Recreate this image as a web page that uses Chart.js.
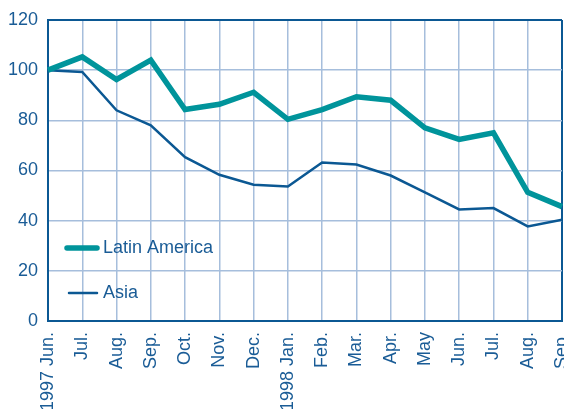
<!DOCTYPE html>
<html>
<head>
<meta charset="utf-8">
<script src="https://cdn.jsdelivr.net/npm/chart.js@4/dist/chart.umd.min.js"></script>
<style>
html,body{margin:0;padding:0;background:#fff;}
#wrap{width:564px;height:409px;position:relative;}
</style>
</head>
<body>
<div id="wrap"><canvas id="c" width="564" height="409"></canvas></div>
<script>
const categories = ["1997 Jun.","Jul.","Aug.","Sep.","Oct.","Nov.","Dec.","1998 Jan.","Feb.","Mar.","Apr.","May","Jun.","Jul.","Aug.","Sep."];
const latinAmerica = [100, 105.3, 96.3, 104, 84.3, 86.4, 91.2, 80.4, 84.3, 89.4, 88, 77, 72.4, 75, 51.3, 45.6];
const asia = [100, 99.3, 84, 78, 65.3, 58.3, 54.3, 53.6, 63.2, 62.4, 58, 51.3, 44.5, 45, 37.7, 40.4];
const yTicks = [0, 20, 40, 60, 80, 100, 120];

const TEAL = '#00949b';
const NAVY = '#0b5893';
const TEXT = '#1a5c96';
const GRID = '#a6bedc';
const FONT = '"Liberation Sans", Arial, Helvetica, sans-serif';

const legendPlugin = {
  id: 'insideLegend',
  afterDatasetsDraw(chart) {
    const ctx = chart.ctx;
    const items = [
      {ds: chart.data.datasets[0], y: 248, x1: 67, x2: 97},
      {ds: chart.data.datasets[1], y: 293, x1: 69, x2: 97}
    ];
    ctx.save();
    items.forEach(it => {
      ctx.strokeStyle = it.ds.borderColor;
      ctx.lineWidth = it.ds.borderWidth;
      ctx.lineCap = 'round';
      ctx.beginPath();
      ctx.moveTo(it.x1, it.y);
      ctx.lineTo(it.x2, it.y);
      ctx.stroke();
      ctx.fillStyle = TEXT;
      ctx.font = '18px ' + FONT;
      ctx.textBaseline = 'middle';
      ctx.textAlign = 'left';
      ctx.fillText(it.ds.label, 103, it.y);
    });
    ctx.restore();
  }
};

new Chart(document.getElementById('c'), {
  type: 'line',
  data: {
    labels: categories,
    datasets: [
      {label: 'Latin America', data: latinAmerica, borderColor: TEAL, backgroundColor: TEAL, borderWidth: 5.5, pointRadius: 0, tension: 0, borderJoinStyle: 'miter'},
      {label: 'Asia', data: asia, borderColor: NAVY, backgroundColor: NAVY, borderWidth: 2.5, pointRadius: 0, tension: 0}
    ]
  },
  options: {
    responsive: false,
    animation: false,
    layout: {padding: {top: 20, right: 2, left: 0, bottom: 0}},
    plugins: {legend: {display: false}, tooltip: {enabled: false}, title: {display: false}},
    scales: {
      x: {
        offset: false,
        grid: {
          color: (c) => (c.index === 0 || c.index === categories.length - 1) ? NAVY : GRID,
          lineWidth: (c) => (c.index === 0 || c.index === categories.length - 1) ? 2 : 1.5,
          drawTicks: false
        },
        border: {display: true, color: NAVY, width: 2},
        ticks: {
          autoSkip: false, maxRotation: 90, minRotation: 90, padding: 11,
          color: TEXT, font: {family: FONT, size: 18}
        },
        afterFit(s) { s.height = 88; s.paddingLeft = 0; s.paddingRight = 0; }
      },
      y: {
        min: 0, max: 120,
        afterBuildTicks(s) { s.ticks = yTicks.map(v => ({value: v})); },
        grid: {
          color: (c) => (c.tick && (c.tick.value === 0 || c.tick.value === 120)) ? NAVY : GRID,
          lineWidth: (c) => (c.tick && (c.tick.value === 0 || c.tick.value === 120)) ? 2 : 1.5,
          drawTicks: false
        },
        border: {display: true, color: NAVY, width: 2},
        ticks: {padding: 10, color: TEXT, font: {family: FONT, size: 18}},
        afterFit(s) { s.width = 48; s.paddingTop = 0; s.paddingBottom = 0; }
      }
    }
  },
  plugins: [legendPlugin]
});
</script>
</body>
</html>
